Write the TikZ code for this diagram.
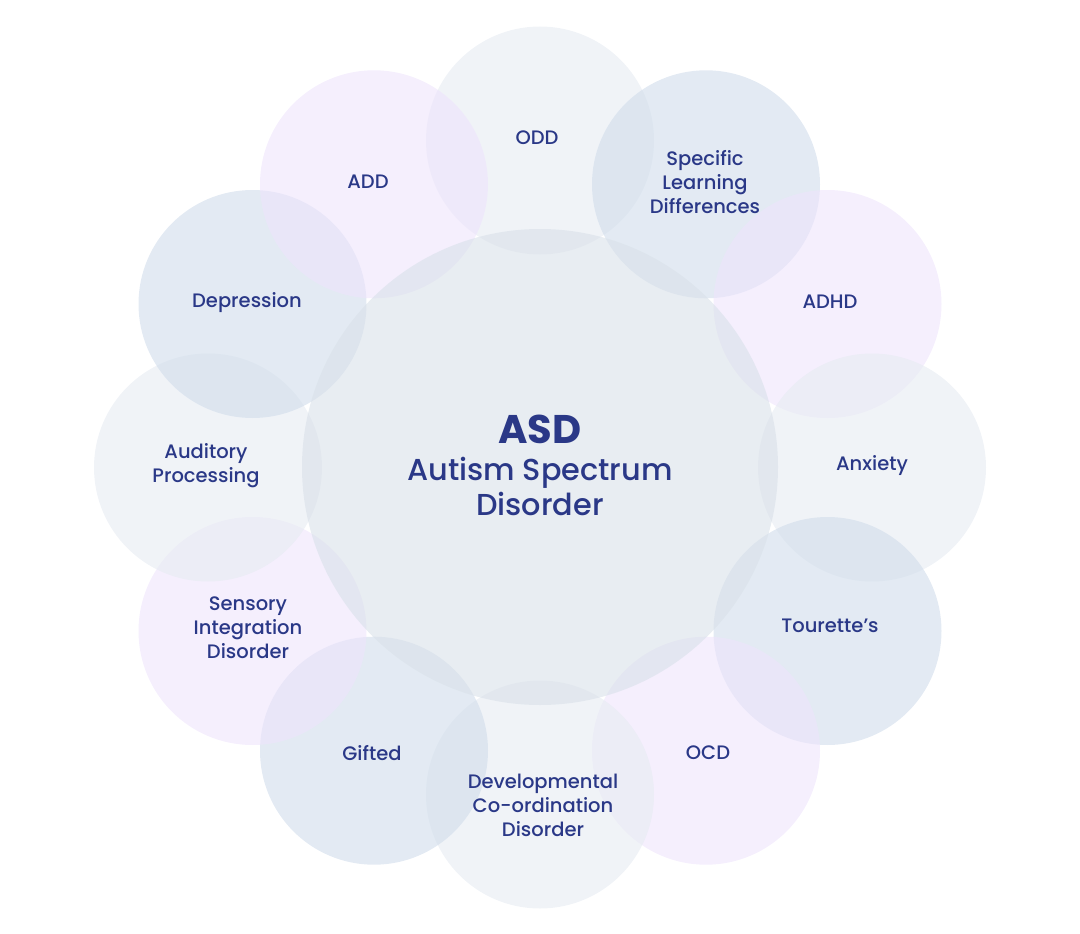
\documentclass[tikz,border=0pt]{standalone}
\usepackage{fontspec}
\setmainfont{Poppins}[UprightFont=* Medium, BoldFont=* Bold]
\usetikzlibrary{shapes}
\definecolor{labelnavy}{RGB}{42,56,135}
\definecolor{ringgrey}{RGB}{230,235,242}
\definecolor{ringblue}{RGB}{208,220,235}
\definecolor{ringlilac}{RGB}{238,228,252}
\definecolor{hubgrey}{RGB}{217,225,233}

\begin{document}
\begin{tikzpicture}[x=1pt,y=-1pt]
\useasboundingbox (0,0) rectangle (1080,934);
\begin{scope}
\tikzstyle{every node}=[inner sep=0pt, text=labelnavy, align=center, font=\fontsize{19.5}{24}\selectfont];
\tikzstyle{ring}=[shape=circle, minimum size=228pt, fill opacity=0.6];

% outer ring of conditions
\draw (540,140.5) node[ring, fill=ringgrey] (odd) {};
\draw (706,184.3) node[ring, fill=ringblue] (sld) {};
\draw (827.5,304) node[ring, fill=ringlilac] (adhd) {};
\draw (872,467.5) node[ring, fill=ringgrey] (anx) {};
\draw (827.5,631) node[ring, fill=ringblue] (tour) {};
\draw (706,750.7) node[ring, fill=ringlilac] (ocd) {};
\draw (540,794.5) node[ring, fill=ringgrey] (dev) {};
\draw (374,750.7) node[ring, fill=ringblue] (gift) {};
\draw (252.5,631) node[ring, fill=ringlilac] (sens) {};
\draw (208,467.5) node[ring, fill=ringgrey] (aud) {};
\draw (252.5,304) node[ring, fill=ringblue] (dep) {};
\draw (374,184.3) node[ring, fill=ringlilac] (add) {};

% centre
\draw (540,467) node[ring, minimum size=476pt, fill=hubgrey] (asd) {};

% labels
\draw (537,138) node (oddtext) {ODD};
\draw (705,182) node (sldtext) {Specific\\Learning\\Differences};
\draw (830,302) node (adhdtext) {ADHD};
\draw (872,466) node (anxtext) {Anxiety};
\draw (830,626) node (tourtext) {Tourette’s};
\draw (708,753) node (ocdtext) {OCD};
\draw (543,805) node (devtext) {Developmental\\Co-ordination\\Disorder};
\draw (372,753) node (gifttext) {Gifted};
\draw (248,628) node (senstext) {Sensory\\Integration\\Disorder};
\draw (206,466) node (audtext) {Auditory\\Processing};
\draw (247,303) node (deptext) {Depression};
\draw (368,182) node (addtext) {ADD};

\draw (540,429) node[font=\fontsize{40}{40}\bfseries\selectfont] (asdtext) {ASD};
\draw (540,486) node[font=\fontsize{30.3}{35}\selectfont] (asdname) {Autism Spectrum\\Disorder};
\end{scope}
\end{tikzpicture}
\end{document}
